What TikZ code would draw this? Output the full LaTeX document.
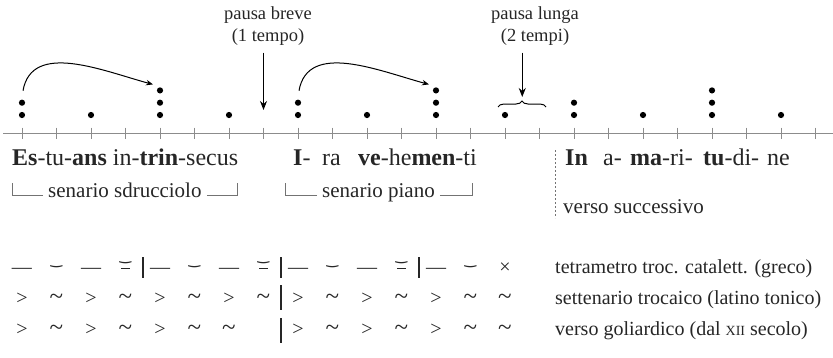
\documentclass[tikz,border=0pt]{standalone}
\usepackage{fontspec}
\setmainfont{Liberation Serif}
\newfontfamily\dejavu{DejaVu Sans}
\usepackage{graphicx}
\usepackage{tikz}
\usetikzlibrary{arrows.meta,positioning,calc,decorations.pathreplacing}

% Metrische Zeichen
\newcommand{\kurz}{\raisebox{8.5pt}{\dejavu\bfseries\fontsize{14}{14}\selectfont ‿}}
\newcommand{\anceps}{\ooalign{\hfil\raisebox{4.5pt}{\kurz}\hfil\cr\hfil\rule[0.2em]{0.42em}{0.06em}\hfil\cr}}
\newcommand{\welle}{\scalebox{1.25}{\textasciitilde}}

\begin{document}
\begin{tikzpicture}[x=1pt, y=1pt,
        every node/.style={inner sep=0pt, text=black!85},
        achse/.style={line width=1pt, black!45},
        strich/.style={line width=0.9pt, black!45},
        punkt/.style={circle, fill=black, inner sep=0pt, minimum size=6.2pt},
        bogen/.style={line width=1pt, -{Stealth[length=7pt,width=5.5pt]}},
        pfeil/.style={line width=1.1pt, -{Stealth[length=9pt,width=7pt]}},
        klammer/.style={line width=1pt, decorate, decoration={brace, amplitude=6pt}},
        haken/.style={line width=0.7pt, black!55},
        gestrichelt/.style={line width=0.7pt, black!55, dash pattern=on 2pt off 2pt},
        silbe/.style={anchor=base west, font=\fontsize{24}{28}\selectfont},
        notiz/.style={anchor=base west, font=\fontsize{21}{25}\selectfont},
        titel/.style={anchor=south, align=center, font=\fontsize{18.5}{21.5}\selectfont},
        metrum/.style={anchor=base, font=\fontsize{20}{24}\selectfont},
        vers/.style={anchor=base west, font=\fontsize{20}{24}\selectfont},
        taktstrich/.style={line width=1.6pt, black!85}
      ]
        \useasboundingbox (0,0) rectangle (833,-357);

        % Zeitachse
        \draw[achse] (3,-133) -- (833,-133);
        \foreach \k in {0,...,23} {\draw[strich] ({22+34.5*\k},-127.5) -- ++(0,-11);}

        % Schlaege (Punkte)
        \foreach \k/\n in {0/2,2/1,4/3,6/1,8/2,10/1,12/3,14/1,16/2,18/1,20/3,22/1} {
          \foreach \j in {1,...,\n} {\node[punkt] (p\k-\j) at ({22+34.5*\k},{-115+12.3*(\j-1)}) {};}
        }

        % Boegen
        \draw[bogen] ($(p0-2)+(1,12)$) to[out=80,in=165] ($(p4-3)+(-7,6)$);
        \draw[bogen] ($(p8-2)+(1,12)$) to[out=80,in=165] ($(p12-3)+(-7,6)$);

        % Pausen
        \node[titel] (pb) at (268,-45.6) {pausa breve\\(1 tempo)};
        \node[titel] (pl) at (535,-45.6) {pausa lunga\\(2 tempi)};
        \coordinate (pbZiel) at ({22+34.5*7},-110);
        \coordinate (plZiel) at ({22+34.5*14.5},-97);
        \draw[pfeil] ([yshift=-7pt]pb.south -| pbZiel) -- (pbZiel);
        \draw[pfeil] ([yshift=-7pt]pl.south -| plZiel) -- (plZiel);
        \draw[klammer] (498,-107) -- (546,-107);

        % Silben
        \node[silbe] (v1) at (12,-165) {\textbf{Es}-tu-\textbf{ans} in-\textbf{trin}-secus};
        \node[silbe] (v2a) at (293,-165) {\textbf{I}-};
        \node[silbe] (v2b) at (322,-165) {ra};
        \node[silbe] (v2c) at (358,-165) {\textbf{ve}-he\textbf{men}-ti};
        \node[silbe] (v3a) at (565,-165) {\textbf{In}};
        \node[silbe] (v3b) at (603,-165) {a-};
        \node[silbe] (v3c) at (630,-165) {\textbf{ma}-ri-};
        \node[silbe] (v3d) at (703,-165) {\textbf{tu}-di-};
        \node[silbe] (v3e) at (767,-165) {ne};

        % Versnamen mit Haken
        \node[notiz] (sdr) at (48,-197) {senario sdrucciolo};
        \draw[haken] ([xshift=-5pt,yshift=2pt]sdr.base west) -- ++(-31,0) -- ++(0,12);
        \draw[haken] ([xshift=5pt,yshift=2pt]sdr.base east) -- ++(31,0) -- ++(0,12);
        \node[notiz] (pia) at (322,-197) {senario piano};
        \draw[haken] ([xshift=-5pt,yshift=2pt]pia.base west) -- ++(-32,0) -- ++(0,12);
        \draw[haken] ([xshift=5pt,yshift=2pt]pia.base east) -- ++(32,0) -- ++(0,12);

        \draw[gestrichelt] (555,-150) -- (555,-218);
        \node[notiz] (vs) at (563,-213) {verso successivo};

        % Schemata
        \foreach \s [count=\i from 0] in {—,\kurz,—,\anceps,—,\kurz,—,\anceps,—,\kurz,—,\anceps,—,\kurz,×}
          {\node[metrum] (a\i) at ({22+34.5*\i},-273) {\s};}
        \foreach \s [count=\i from 0] in {>,\welle,>,\welle,>,\welle,>,\welle,>,\welle,>,\welle,>,\welle,\welle}
          {\node[metrum] (b\i) at ({22+34.5*\i},-304) {\s};}
        \foreach \i/\s in {0/>,1/\welle,2/>,3/\welle,4/>,5/\welle,6/\welle,8/>,9/\welle,10/>,11/\welle,12/>,13/\welle,14/\welle}
          {\node[metrum] (c\i) at ({22+34.5*\i},-335) {\s};}

        \foreach \b in {3.5,7.5,11.5} {\draw[taktstrich] ({22+34.5*\b},-257) -- ++(0,-21);}
        \draw[taktstrich] ({22+34.5*7.5},-285) -- ++(0,-25);
        \draw[taktstrich] ({22+34.5*7.5},-318) -- ++(0,-25);

        \node[vers] (z1) at (555,-273) {tetrametro troc. catalett. (greco)};
        \node[vers] (z2) at (555,-304) {settenario trocaico (latino tonico)};
        \node[vers] (z3) at (555,-335) {verso goliardico (dal {\fontsize{14}{16}\selectfont XII} secolo)};
      \end{tikzpicture}
\end{document}
